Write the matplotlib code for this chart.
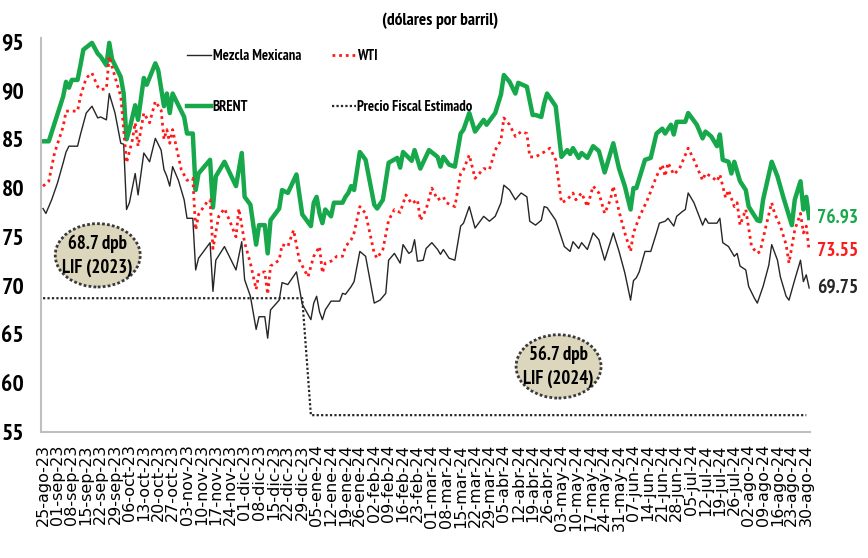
import pandas as pd
import numpy as np
import matplotlib
matplotlib.use('Agg')
import matplotlib.pyplot as plt
from matplotlib.patches import Ellipse

# ── DATA ─────────────────────────────────────────────────────────
# x = trading day number counted from 25-ago-23 (business days)
START = '2023-08-25'
N_DAYS = 267

brent_idx = [0, 2, 7, 8, 9, 10, 12, 13, 14, 17, 19, 20, 22, 23, 24, 27, 28, 29, 30, 32,
             33, 35, 36, 39, 40, 42, 43, 44, 45, 47, 49, 50, 52, 53, 54, 58, 59, 60, 63, 67,
             69, 70, 72, 74, 75, 77, 78, 79, 82, 83, 85, 88, 90, 93, 94, 95, 96, 97, 98, 100,
             101, 104, 105, 106, 107, 108, 110, 112, 115, 116, 118, 120, 123, 124, 125, 128, 129, 131, 134, 137,
             138, 139, 141, 143, 145, 146, 148, 150, 153, 154, 157, 159, 160, 162, 164, 165, 168, 170, 171, 173,
             174, 175, 178, 180, 182, 183, 184, 186, 187, 189, 191, 193, 195, 198, 200, 202, 204, 205, 206, 209,
             211, 213, 215, 216, 218, 219, 220, 223, 224, 227, 229, 230, 232, 234, 235, 236, 238, 239, 240, 242,
             244, 245, 248, 249, 250, 253, 255, 257, 260, 261, 263, 264, 265, 266]
brent = [84.8, 84.8, 89.4, 90.9, 90.3, 91.1, 91.1, 92.6, 94.2, 94.9, 93.8, 93.5, 92.6, 94.9, 93.2, 91.4, 89.7, 85.0, 86.0, 88.5,
         87.0, 91.3, 90.6, 92.8, 92.1, 88.4, 89.7, 87.7, 89.7, 88.5, 87.3, 85.6, 85.6, 79.8, 81.5, 82.9, 78.0, 81.2, 82.7, 80.2,
         83.6, 79.1, 78.3, 74.2, 76.2, 76.2, 73.3, 76.7, 77.9, 79.8, 79.5, 81.4, 77.3, 76.1, 78.5, 79.1, 77.4, 76.4, 77.8, 77.1,
         78.5, 78.5, 79.1, 79.5, 80.2, 79.8, 83.7, 82.9, 78.3, 77.9, 78.8, 82.6, 83.1, 82.1, 83.7, 82.8, 83.9, 82.0, 83.9, 83.2,
         82.2, 83.2, 82.4, 82.2, 85.6, 86.0, 87.7, 85.8, 87.0, 86.5, 87.7, 89.6, 91.6, 90.9, 89.7, 90.8, 90.4, 87.5, 87.5, 87.3,
         88.7, 89.7, 88.4, 83.2, 83.9, 83.5, 84.1, 83.1, 83.6, 83.1, 84.3, 83.8, 81.6, 84.6, 82.0, 80.2, 77.8, 80.0, 80.0, 82.9,
         83.1, 85.6, 86.1, 85.6, 86.5, 85.5, 86.8, 86.8, 87.7, 86.5, 85.1, 85.8, 85.3, 84.3, 85.5, 82.9, 82.7, 81.5, 82.7, 80.7,
         79.8, 78.1, 76.7, 76.6, 78.8, 82.7, 81.2, 79.1, 76.2, 78.8, 80.7, 77.8, 79.1, 76.93]

wti_idx = [0, 2, 4, 7, 8, 12, 13, 15, 17, 19, 20, 22, 23, 25, 27, 28, 29, 31, 32, 33,
           35, 37, 39, 41, 42, 43, 44, 45, 46, 48, 50, 52, 53, 54, 57, 58, 59, 61, 63, 65,
           67, 68, 70, 72, 74, 75, 77, 78, 79, 82, 83, 85, 87, 89, 92, 94, 96, 97, 98, 100,
           102, 104, 105, 107, 108, 110, 112, 115, 116, 118, 120, 122, 124, 126, 128, 130, 131, 133, 135, 137,
           139, 140, 143, 145, 146, 148, 150, 153, 155, 157, 159, 160, 162, 164, 166, 168, 169, 171, 174, 176,
           178, 180, 182, 184, 185, 187, 189, 191, 193, 195, 197, 198, 200, 202, 204, 205, 207, 210, 213, 215,
           216, 217, 219, 221, 223, 224, 226, 229, 230, 232, 234, 235, 237, 238, 240, 241, 242, 244, 246, 248,
           249, 251, 253, 254, 256, 258, 259, 261, 263, 264, 265, 266]
wti = [80.2, 80.7, 83.6, 86.3, 87.9, 87.9, 89.4, 91.3, 91.8, 90.4, 90.1, 90.2, 93.5, 91.4, 89.4, 86.0, 82.6, 84.9, 86.7, 84.3,
       87.7, 86.7, 88.9, 88.0, 85.0, 86.0, 84.6, 86.0, 84.6, 81.9, 80.8, 81.0, 75.7, 77.3, 78.6, 78.8, 73.8, 77.1, 77.9, 76.5,
       75.0, 77.9, 74.4, 72.3, 69.6, 71.3, 71.4, 69.1, 72.0, 72.6, 74.2, 74.0, 75.7, 72.6, 70.9, 73.0, 74.0, 71.3, 72.3, 72.5,
       73.0, 73.0, 74.0, 74.7, 75.4, 78.1, 77.4, 73.3, 72.8, 73.7, 76.7, 77.8, 77.5, 79.3, 78.4, 78.8, 76.7, 77.8, 80.0, 78.8,
       79.1, 78.5, 78.1, 81.5, 81.9, 83.4, 81.0, 82.0, 81.9, 83.9, 84.9, 87.2, 86.5, 85.3, 85.8, 85.6, 83.2, 83.2, 83.7, 84.1,
       82.9, 78.5, 78.8, 79.5, 78.8, 79.5, 78.1, 80.2, 79.5, 77.4, 78.8, 80.2, 77.6, 75.4, 73.5, 75.4, 77.0, 78.9, 81.2, 82.4,
       81.2, 82.6, 81.4, 82.0, 83.4, 84.1, 82.9, 80.8, 81.5, 81.2, 80.7, 81.4, 79.0, 79.8, 78.1, 78.5, 76.2, 77.8, 74.0, 73.3,
       73.5, 76.1, 78.5, 77.4, 76.1, 74.2, 72.3, 75.7, 77.4, 75.4, 76.1, 73.55]

mezcla_idx = [0, 1, 3, 5, 7, 8, 9, 12, 13, 15, 17, 19, 20, 22, 23, 25, 27, 28, 29, 30,
              32, 33, 35, 37, 39, 41, 42, 43, 44, 45, 47, 49, 50, 52, 53, 54, 57, 58, 59, 60,
              63, 67, 69, 70, 72, 73, 74, 75, 77, 78, 79, 82, 83, 85, 88, 90, 93, 94, 95, 96,
              97, 98, 100, 103, 104, 105, 107, 108, 110, 112, 115, 117, 119, 120, 122, 124, 125, 127, 128, 129,
              130, 132, 133, 135, 137, 138, 139, 141, 143, 145, 146, 148, 150, 153, 155, 157, 159, 160, 162, 164,
              166, 168, 169, 171, 173, 174, 175, 178, 181, 183, 184, 186, 187, 189, 191, 193, 195, 198, 200, 202,
              204, 205, 206, 207, 209, 211, 213, 214, 216, 217, 219, 220, 222, 223, 224, 226, 229, 230, 231, 234,
              235, 236, 238, 240, 241, 242, 244, 245, 247, 248, 250, 252, 253, 255, 256, 258, 259, 261, 263, 264,
              265, 266]
mezcla = [77.9, 77.4, 78.8, 80.5, 82.6, 83.7, 84.3, 84.3, 85.5, 87.7, 88.4, 87.2, 87.3, 87.0, 89.7, 87.7, 84.6, 84.5, 77.8, 78.5,
          81.5, 79.3, 83.6, 82.7, 85.1, 83.9, 81.9, 81.2, 80.2, 82.2, 80.8, 78.8, 76.9, 76.9, 71.6, 72.8, 74.0, 74.4, 69.4, 72.6,
          74.0, 71.6, 74.5, 70.6, 68.9, 67.2, 65.5, 66.8, 66.8, 64.6, 67.5, 68.5, 70.3, 70.1, 71.4, 68.1, 66.5, 68.2, 68.9, 67.3,
          66.5, 67.5, 68.4, 68.4, 69.2, 69.1, 69.9, 70.4, 73.5, 73.0, 68.2, 68.5, 69.2, 72.6, 73.3, 72.3, 74.2, 73.3, 73.5, 74.7,
          72.5, 72.6, 73.8, 74.4, 73.7, 73.2, 73.7, 72.8, 72.6, 76.1, 76.4, 78.1, 75.9, 77.1, 76.6, 77.1, 78.5, 80.3, 79.8, 78.8,
          79.5, 79.1, 76.6, 76.2, 76.7, 78.1, 78.0, 76.7, 74.0, 73.5, 74.5, 73.8, 74.4, 73.7, 75.4, 74.7, 72.6, 75.4, 73.5, 71.3,
          68.5, 70.5, 70.8, 71.4, 73.5, 73.5, 75.4, 76.4, 76.6, 76.9, 76.1, 77.1, 77.6, 77.8, 79.5, 78.5, 76.2, 76.9, 76.4, 76.4,
          76.9, 74.4, 74.0, 73.0, 73.3, 72.0, 71.6, 69.9, 68.7, 68.2, 69.9, 72.1, 74.2, 72.6, 70.9, 68.9, 68.5, 70.6, 72.6, 70.4,
          71.1, 69.75]

fiscal_idx = [0, 90, 93, 265]
fiscal = [68.7, 68.7, 56.7, 56.7]

callouts = [('68.7 dpb\nLIF (2023)', 19, 73.1),
            ('56.7 dpb\nLIF (2024)', 179, 61.7)]

MESES = {1: 'ene', 2: 'feb', 3: 'mar', 4: 'abr', 5: 'may', 6: 'jun',
         7: 'jul', 8: 'ago', 9: 'sep', 10: 'oct', 11: 'nov', 12: 'dic'}

GREEN = '#16A84B'
RED   = '#FF1A1A'
BLACK = '#262626'
# narrow bold face, close to the stretched Calibri of the original
BOLD_FONT = ['PT Sans Narrow', 'Archivo Narrow', 'Roboto Condensed', 'Carlito', 'DejaVu Sans']

# ── PLOT ─────────────────────────────────────────────────────────
dates = pd.bdate_range(START, periods=N_DAYS)
tick_pos = np.arange(0, N_DAYS, 5)
tick_lab = [f'{d.day:02d}-{MESES[d.month]}-{d.year % 100:02d}' for d in dates[tick_pos]]

fig = plt.figure(figsize=(8.68, 5.58), dpi=100)
ax = fig.add_axes([0.0469, 0.2263, 0.8863, 0.7056])

ax.plot(mezcla_idx, mezcla, color=BLACK, lw=1.0, label='Mezcla Mexicana')
ax.plot(brent_idx, brent, color=GREEN, lw=3.2, label='BRENT', solid_joinstyle='round')
ax.plot(wti_idx, wti, color=RED, lw=2.0, ls=(0, (1, 1.4)), label='WTI')
ax.plot(fiscal_idx, fiscal, color=BLACK, lw=1.6, ls=(0, (1, 1)), label='Precio Fiscal Estimado')

ax.set_xlim(-0.8, 266.3)
ax.set_ylim(55, 95.4)
ax.set_yticks(range(55, 100, 5))
ax.set_xticks(tick_pos)
ax.set_xticklabels(tick_lab, rotation=90, fontsize=11.5, family='DejaVu Sans')
ax.tick_params(axis='x', length=0, pad=9)
ax.tick_params(axis='y', length=0, pad=12)
for lab in ax.get_yticklabels():
    lab.set_family(BOLD_FONT)
    lab.set_fontweight('bold')
    lab.set_fontsize(17)

for side in ['top', 'right']:
    ax.spines[side].set_visible(False)
for side in ['left', 'bottom']:
    ax.spines[side].set_color('#BFBFBF')
    ax.spines[side].set_linewidth(1.5)

# final values on the right
for xs, ys, col in [(brent_idx, brent, GREEN), (wti_idx, wti, RED), (mezcla_idx, mezcla, BLACK)]:
    ax.annotate(f'{ys[-1]:.2f}', xy=(xs[-1], ys[-1]), xytext=(6, 0), textcoords='offset points',
                va='center', ha='left', color=col, fontsize=14, fontweight='bold',
                family=BOLD_FONT, annotation_clip=False)

# LIF callouts
for text, cx, cy in callouts:
    ax.add_patch(Ellipse((cx, cy), width=29.5, height=6.5, facecolor='#DCD6BC',
                         edgecolor='#3A3A3A', lw=2.0, ls=(0, (1, 0.8)), zorder=5))
    ax.text(cx, cy, text, ha='center', va='center', fontsize=13.5, fontweight='bold',
            family=BOLD_FONT, linespacing=1.4, zorder=6)

fig.text(0.507, 0.962, '(dólares por barril)', ha='center', va='center',
         fontsize=12.5, fontweight='bold', family=BOLD_FONT)

handles, labels = ax.get_legend_handles_labels()
leg = fig.legend(handles, labels,
                 loc='upper left', bbox_to_anchor=(187 / 868, 1 - 49 / 558), ncol=2,
                 frameon=False, handlelength=1.65, handletextpad=0.1, columnspacing=2.1,
                 labelspacing=2.55, borderpad=0, borderaxespad=0,
                 prop={'family': BOLD_FONT, 'weight': 'bold', 'size': 10.5})

plt.savefig('out.png', dpi=100)
